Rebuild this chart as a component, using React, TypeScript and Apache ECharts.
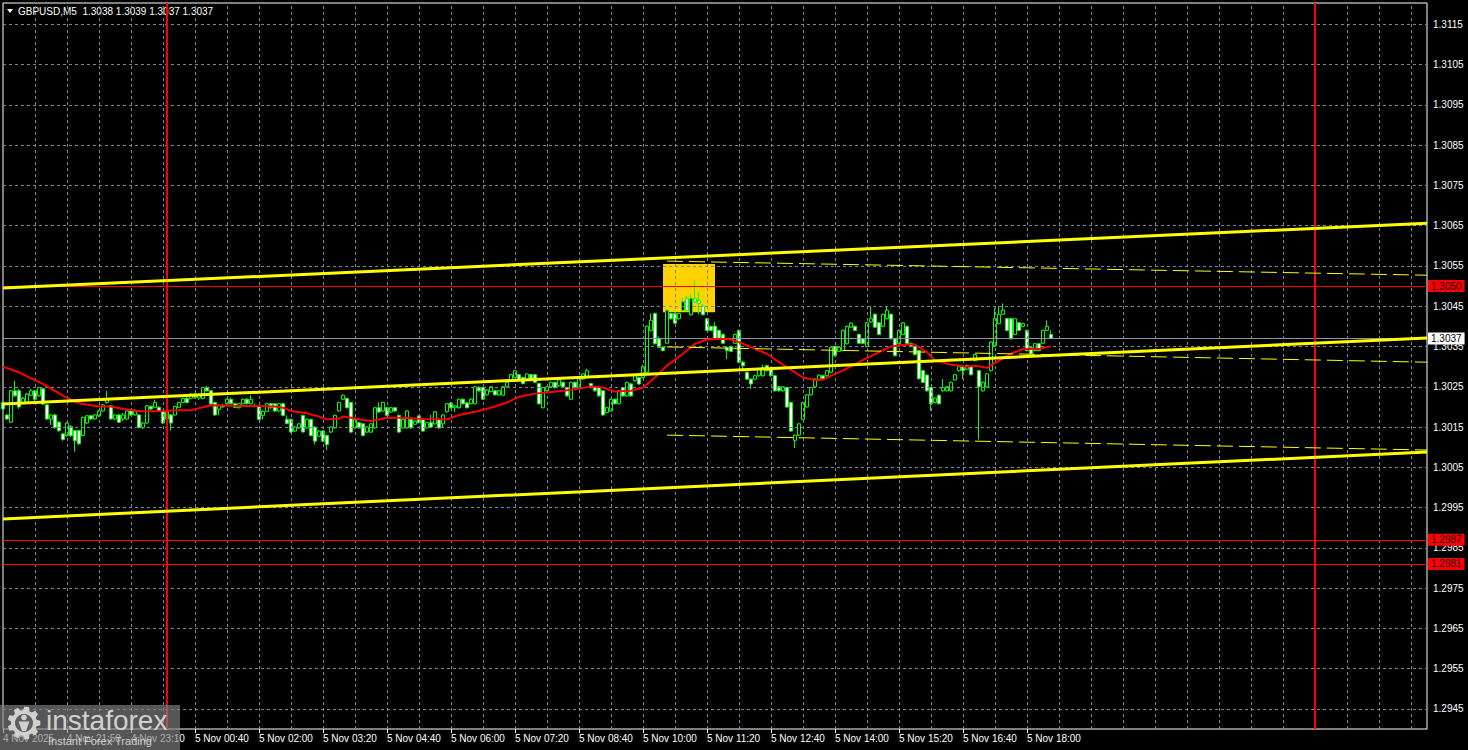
import React, { useEffect, useRef } from "react";
import * as echarts from "echarts";

// ---------- data (prices in pips above 1.3000) ----------
const BASE = 1.3;
const PIP = 0.0001;
const SLOT_COUNT = 357; // 5-minute slots visible across the plot
const LABEL_STEP = 16;

const titleText = "GBPUSD,M5  1.3038 1.3039 1.3037 1.3037";

const xTickLabels = [
  "4 Nov 2025", "4 Nov 21:50", "4 Nov 23:10", "5 Nov 00:40", "5 Nov 02:00",
  "5 Nov 03:20", "5 Nov 04:40", "5 Nov 06:00", "5 Nov 07:20", "5 Nov 08:40",
  "5 Nov 10:00", "5 Nov 11:20", "5 Nov 12:40", "5 Nov 14:00", "5 Nov 15:20",
  "5 Nov 16:40", "5 Nov 18:00",
];

const yTickValues = [
  1.2945, 1.2955, 1.2965, 1.2975, 1.2985, 1.2995, 1.3005, 1.3015, 1.3025,
  1.3035, 1.3045, 1.3055, 1.3065, 1.3075, 1.3085, 1.3095, 1.3105, 1.3115,
];

const opens = [
  21.1,18.0,16.2,24.0,24.0,21.0,21.1,22.9,24.0,22.8,
  24.5,20.5,17.0,18.0,16.2,13.3,12.9,15.1,14.1,14.1,
  12.9,16.0,17.8,17.0,17.8,19.0,21.1,20.3,17.0,18.0,
  17.0,17.0,19.0,18.0,18.0,14.9,16.0,20.1,19.9,19.9,
  19.0,17.0,18.0,18.0,19.9,21.1,22.1,22.1,23.2,22.2,
  22.1,24.8,24.0,21.1,19.4,20.4,20.8,21.9,20.8,19.8,
  20.8,21.9,20.8,20.4,20.1,17.9,18.9,20.8,20.8,19.0,
  20.8,16.9,16.9,14.0,14.8,17.9,14.8,16.9,15.0,12.75,
  14.0,12.9,13.75,14.8,19.0,21.9,22.1,21.1,14.8,16.1,
  15.8,13.75,13.75,14.8,19.8,19.0,19.8,18.75,19.8,17.9,
  14.8,14.8,16.9,15.7,17.75,16.9,14.8,16.1,15.8,16.9,
  15.8,18.8,21.0,19.8,19.8,21.9,21.0,20.8,20.8,24.8,
  24.8,23.0,23.8,24.0,23.0,22.9,25.0,26.5,27.3,28.0,
  27.3,26.9,28.0,28.0,25.8,19.8,24.0,25.0,26.1,25.25,
  26.1,24.8,21.9,26.1,24.8,26.9,27.3,25.8,25.0,24.8,
  24.0,18.6,19.0,21.9,20.8,24.8,22.75,25.7,26.5,27.3,
  27.3,28.6,39.0,43.2,36.9,34.8,35.8,43.2,43.2,41.9,
  44.0,46.9,42.9,46.9,46.5,45.0,41.9,40.0,40.0,39.0,
  38.0,34.8,35.0,35.8,39.0,31.1,28.6,26.9,26.9,27.75,
  27.75,30.25,29.4,27.75,25.0,24.0,24.8,21.1,11.7,13.0,
  16.9,20.0,23.0,25.0,26.7,27.75,27.75,28.6,35.0,33.8,
  34.0,35.7,39.8,40.0,38.0,36.9,35.0,41.1,43.0,40.9,
  40.0,41.9,43.0,36.9,35.7,38.0,40.0,35.8,35.0,34.0,
  29.0,27.9,24.8,21.1,22.9,24.0,24.0,24.0,26.7,29.0,
  30.0,29.4,30.0,31.5,29.0,24.0,25.0,29.0,35.25,40.7,
  43.0,41.9,41.9,38.0,40.9,40.0,39.0,34.7,34.0,35.7,
  35.8,39.0,38.0,
];

const closes = [
  19.5,17.0,24.0,22.8,20.0,22.1,23.2,24.0,21.9,24.8,
  20.7,17.0,18.0,14.9,14.1,11.9,16.0,12.9,11.6,10.9,
  17.4,17.8,17.0,18.0,19.0,20.5,21.9,17.0,18.0,16.2,
  18.0,19.0,18.0,19.0,14.9,16.0,20.3,19.5,21.1,19.0,
  16.0,19.0,16.0,20.1,21.1,22.1,21.1,23.2,22.5,23.0,
  24.8,24.0,20.7,18.0,20.4,20.0,21.9,20.8,19.9,20.8,
  21.9,20.8,21.9,20.1,16.9,18.9,20.8,19.8,19.0,20.8,
  17.9,15.9,13.8,15.0,15.8,13.8,16.9,12.9,11.5,14.0,
  11.5,10.7,15.0,17.9,21.1,22.9,19.8,13.75,16.9,14.8,
  12.9,15.0,15.8,19.8,18.75,21.1,17.9,19.8,19.0,13.75,
  16.9,19.0,14.8,16.5,16.1,14.0,16.1,15.0,18.8,14.8,
  18.0,20.8,19.8,20.25,21.9,20.8,19.8,21.9,25.0,24.0,
  21.9,24.2,25.0,23.0,24.0,25.0,26.1,28.0,29.0,26.7,
  25.8,28.2,26.7,26.1,20.8,24.8,25.0,26.1,24.8,26.7,
  25.0,22.75,26.1,24.8,27.3,28.2,29.0,24.8,24.0,22.75,
  18.0,19.8,21.9,20.8,24.0,22.75,26.1,22.75,27.75,25.7,
  30.0,40.0,41.5,35.7,34.8,34.0,44.0,41.9,40.8,43.2,
  46.1,44.0,46.9,46.1,45.7,42.9,39.0,39.0,36.9,36.9,
  35.8,34.0,33.8,38.0,31.1,30.25,26.9,25.7,27.75,29.4,
  29.8,29.0,27.75,24.0,24.0,25.0,20.0,14.0,13.0,15.8,
  21.1,23.0,24.8,26.9,27.9,26.9,29.0,34.8,32.75,34.8,
  39.0,40.0,40.8,39.0,35.8,35.8,40.9,41.9,39.8,38.0,
  43.0,44.0,36.9,32.75,39.0,40.9,35.7,35.0,33.0,27.0,
  26.1,24.0,20.8,22.2,20.8,24.8,25.0,26.1,28.0,30.0,
  29.0,30.25,28.0,33.0,25.0,26.1,28.2,36.1,41.9,43.0,
  44.0,39.0,36.9,41.9,39.0,40.7,34.0,33.2,35.7,34.0,
  39.0,40.0,37.0,
];

const lows = [
  19.0,16.8,16.0,22.5,19.5,20.8,21.0,22.8,21.5,22.5,
  20.5,16.8,15.5,14.5,13.8,11.6,12.6,12.5,8.9,10.5,
  12.7,15.8,16.8,16.8,17.5,18.8,20.8,16.8,16.8,16.0,
  16.5,16.8,17.8,17.8,14.7,14.5,15.8,19.2,19.7,18.8,
  15.8,16.8,14.1,17.8,19.7,20.9,20.9,21.9,22.0,21.8,
  21.9,23.8,20.5,17.8,17.9,19.8,20.6,20.6,19.7,19.6,
  20.6,20.6,20.6,19.9,16.7,16.9,18.7,19.6,18.8,18.8,
  17.7,15.7,13.5,13.8,14.6,13.6,14.6,12.7,10.7,12.5,
  11.3,9.25,13.5,14.6,18.8,21.7,19.6,13.5,14.6,14.6,
  12.7,13.5,13.5,14.6,18.5,18.8,17.7,18.5,18.8,13.5,
  14.6,14.6,14.6,15.5,15.9,13.8,14.6,14.8,15.6,14.6,
  14.8,18.6,19.6,18.8,19.6,20.6,19.6,20.6,20.6,23.8,
  21.7,22.8,23.6,22.8,22.8,22.7,24.8,26.3,27.1,26.5,
  25.6,26.7,26.5,25.9,20.6,19.6,23.8,24.8,24.6,25.0,
  24.8,22.5,21.7,24.6,24.6,26.7,27.1,24.6,23.8,22.5,
  17.8,18.4,18.8,20.6,20.6,22.5,22.5,22.5,26.3,25.5,
  27.1,28.4,38.8,35.5,34.6,33.8,35.6,41.7,40.6,41.7,
  43.8,43.8,42.7,45.9,43.0,42.7,38.8,38.8,36.7,36.7,
  35.6,31.9,33.6,35.6,30.9,29.5,26.7,24.5,26.7,27.5,
  27.5,28.8,27.5,23.8,23.8,23.8,19.8,13.8,9.8,12.8,
  16.7,19.8,22.8,24.8,26.5,26.7,27.5,28.4,32.5,33.6,
  33.8,35.5,39.6,38.8,35.6,35.6,34.8,40.9,39.6,37.8,
  39.8,41.7,36.7,32.5,35.5,37.8,35.5,34.8,32.8,26.8,
  25.9,23.8,19.0,20.9,20.6,23.8,23.8,23.8,26.5,28.8,
  26.9,29.2,27.8,31.3,11.9,23.8,24.8,28.8,35.0,40.5,
  42.8,38.8,36.7,37.8,38.8,39.8,33.8,33.0,33.8,33.8,
  35.6,38.8,37.0,
];

const highs = [
  21.5,18.2,24.2,26.5,24.5,22.5,23.5,24.5,24.2,25.0,
  24.8,20.7,18.2,18.2,16.5,13.5,16.3,15.5,14.3,14.3,
  17.6,18.0,18.0,18.2,19.3,20.8,24.0,20.5,18.2,18.2,
  18.5,19.2,19.2,19.5,18.2,16.2,20.5,20.4,21.8,20.2,
  19.2,19.2,18.2,20.3,21.3,22.3,22.5,23.4,23.4,23.4,
  25.0,25.2,24.2,21.3,20.6,20.8,22.1,22.3,21.0,21.0,
  22.1,22.2,22.9,20.8,20.3,19.1,21.0,21.0,20.9,21.0,
  21.0,17.9,17.1,15.2,16.0,18.1,17.1,17.1,15.2,14.2,
  14.2,13.1,15.2,18.1,21.3,23.1,22.3,21.3,17.1,16.3,
  16.0,15.2,16.0,20.0,21.1,21.3,20.0,20.0,20.0,18.1,
  17.1,19.2,17.1,16.7,18.0,17.1,16.3,18.0,19.0,17.1,
  18.2,21.0,21.2,20.5,22.1,22.1,21.2,22.1,25.2,25.2,
  25.0,24.4,25.2,24.2,24.2,25.2,26.3,28.2,29.2,28.2,
  27.5,28.4,28.2,28.2,26.0,25.0,25.2,26.3,26.3,26.9,
  26.3,25.0,26.3,26.3,27.5,28.4,29.5,26.0,25.2,25.0,
  24.2,20.0,22.1,22.1,24.2,25.0,26.3,26.0,28.0,27.5,
  30.5,40.2,43.2,43.4,37.5,35.0,44.2,43.4,43.4,43.4,
  47.0,47.5,48.0,51.5,48.5,45.5,42.1,40.2,41.0,39.2,
  38.2,35.0,35.2,38.2,39.2,31.5,28.8,27.1,28.0,29.6,
  30.5,30.5,29.6,28.0,25.2,25.2,25.0,21.3,13.2,16.0,
  21.3,23.2,25.0,27.1,28.1,28.0,29.2,35.0,35.2,35.0,
  39.2,40.2,41.0,40.2,38.2,37.1,41.1,45.0,43.2,41.1,
  43.2,45.0,43.2,37.1,39.2,41.1,40.2,36.0,35.2,34.2,
  29.2,28.1,25.0,22.4,23.1,26.9,25.2,26.3,28.2,30.2,
  30.2,30.5,30.2,33.2,29.2,26.3,28.4,36.3,44.5,45.0,
  45.7,42.1,42.1,42.1,41.1,40.9,39.2,34.9,35.9,35.9,
  39.2,41.5,39.0,
];

// Smoothed moving average, read at sample slots: [slot, pips]
const maPoints: [number, number][] = [
  [0, 30.0], [4, 28.6], [7, 27.1], [10, 25.7], [13, 24.0], [15, 22.8], [18, 21.3],
  [20, 20.7], [24, 20.1], [27, 20.1], [30, 19.5], [34, 18.9], [37, 18.9], [40, 19.0],
  [44, 19.2], [47, 19.2], [50, 19.9], [52, 20.4], [60, 20.25], [68, 20.1], [70, 19.8],
  [72, 19.0], [76, 18.4], [79, 17.6], [81, 16.9], [84, 17.1], [85, 17.6], [87, 17.3],
  [90, 16.75], [92, 16.5], [94, 16.9], [96, 17.3], [100, 17.3], [105, 17.0], [111, 16.9],
  [114, 18.0], [119, 19.0], [123, 20.1], [126, 21.1], [129, 22.5], [133, 23.3], [136, 23.6],
  [140, 24.0], [143, 24.4], [147, 25.1], [150, 24.8], [153, 23.8], [157, 24.0], [160, 24.8],
  [163, 27.3], [166, 30.25], [170, 33.2], [173, 35.7], [176, 36.75], [179, 36.9], [182, 36.75],
  [184, 36.1], [188, 34.4], [191, 33.2], [194, 31.1], [197, 29.2], [200, 27.3], [203, 26.7],
  [205, 26.8], [208, 28.2], [210, 29.0], [214, 31.1], [219, 33.6], [222, 35.0], [226, 35.5],
  [228, 35.5], [231, 33.6], [233, 31.5], [237, 30.5], [241, 30.0], [243, 30.25], [246, 29.7],
  [249, 31.5], [252, 33.2], [255, 34.4], [259, 34.4], [262, 35.1],
];

// Channel lines (solid, thick) and projected lines (dashed): [slot, pips]
const channelUpper: [number, number][] = [[0, 49.5], [356, 65.6]];
const channelMiddle: [number, number][] = [[0, 20.7], [356, 37.1]];
const channelLower: [number, number][] = [[0, -7.8], [356, 8.8]];
const dashUpper: [number, number][] = [[166, 56.2], [356, 52.7]];
const dashMiddle: [number, number][] = [[166, 34.9], [356, 31.1]];
const dashLower: [number, number][] = [[166, 13.0], [356, 9.3]];

// Highlight box: slots and pip range
const boxSlots = [165, 178];
const boxPips = [55.5, 43.5];

const redLevels = [1.305, 1.2987, 1.2981];
const bidPrice = 1.3037;
const dayBreakSlots = [41, 328];

// ---------- helpers ----------
const FONT = '"Liberation Sans", Arial, sans-serif';
const toPrice = (p: number) => Math.round((BASE + p * PIP) * 1e6) / 1e6;
const toXY = (pts: [number, number][]) => pts.map(([s, v]) => [s, toPrice(v)]);
const slotCategories = Array.from({ length: SLOT_COUNT }, (_, i) => String(i));
const xGridSlots = Array.from({ length: 44 }, (_, i) => (i + 1) * 8);
const Y_MIN = 1.294003;
const Y_MAX = 1.312029;

const labelSlot = (i: number) => i % LABEL_STEP === 0 && i / LABEL_STEP < xTickLabels.length;

function gearPoints(cx: number, cy: number, r1: number, r2: number, teeth: number) {
  const pts: number[][] = [];
  const step = 360 / teeth;
  for (let i = 0; i < teeth; i++) {
    const c = i * step;
    const a = [c - step * 0.36, c - step * 0.2, c + step * 0.2, c + step * 0.36];
    const r = [r1, r2, r2, r1];
    for (let k = 0; k < 4; k++) {
      const rad = (a[k] * Math.PI) / 180;
      pts.push([cx + r[k] * Math.cos(rad), cy + r[k] * Math.sin(rad)]);
    }
  }
  return pts;
}

function buildOption(): any {
  const candleData = opens.map((o, i) => [
    toPrice(o), toPrice(closes[i]), toPrice(lows[i]), toPrice(highs[i]),
  ]);

  const solid = (data: [number, number][]) => ({
    type: "line", xAxisIndex: 1, yAxisIndex: 0, data: toXY(data), showSymbol: false,
    silent: true, z: 6, lineStyle: { color: "#ffff00", width: 3 },
  });
  const dashed = (data: [number, number][]) => ({
    type: "line", xAxisIndex: 1, yAxisIndex: 0, data: toXY(data), showSymbol: false,
    silent: true, z: 6, lineStyle: { color: "#ffff00", width: 1, type: [16, 6] },
  });

  return {
    animation: false,
    backgroundColor: "#000",
    grid: {
      left: 3, top: 3, width: 1424, height: 726, show: true,
      borderColor: "#ffffff", borderWidth: 1, backgroundColor: "#000",
    },
    xAxis: [
      {
        type: "category", data: slotCategories, boundaryGap: false,
        axisLine: { show: false },
        axisTick: { show: true, interval: (i: number) => labelSlot(i), length: 4, lineStyle: { color: "#fff" } },
        axisLabel: {
          interval: (i: number) => labelSlot(i),
          formatter: (_v: string, i: number) => xTickLabels[i / LABEL_STEP] ?? "",
          color: "#fff", fontSize: 10, fontFamily: FONT, align: "left", margin: 4,
        },
        splitLine: { show: false },
      },
      { type: "value", min: 0, max: SLOT_COUNT - 1, show: false },
    ],
    yAxis: { type: "value", min: Y_MIN, max: Y_MAX, position: "right", show: false },
    graphic: [
      { type: "polygon", z: 1, shape: { points: [[7, 9], [13, 9], [10, 13]] }, style: { fill: "#fff" } },
      {
        type: "text", z: 1, x: 18, y: 11,
        style: { text: titleText, fill: "#fff", font: `10px ${FONT}`, verticalAlign: "middle" },
      },
      {
        type: "group", z: 100,
        children: [
          { type: "rect", z: 100, shape: { x: 0, y: 705, width: 180, height: 45 }, style: { fill: "rgba(128,128,128,0.67)" } },
          { type: "polygon", z: 101, shape: { points: gearPoints(24, 723, 13, 16.5, 9) }, style: { fill: "#cfcfcf" } },
          { type: "circle", z: 102, shape: { cx: 24, cy: 723, r: 9 }, style: { fill: "#5e5e5e" } },
          { type: "circle", z: 103, shape: { cx: 24, cy: 717.5, r: 2.8 }, style: { fill: "#cfcfcf" } },
          { type: "polygon", z: 103, shape: { points: [[18.5, 721.5], [29.5, 721.5], [26, 731], [22, 731]] }, style: { fill: "#cfcfcf" } },
          {
            type: "text", z: 103, x: 46, y: 734,
            style: { text: "instaforex", fill: "#d0d0d0", font: `28px ${FONT}`, verticalAlign: "bottom" },
          },
          {
            type: "text", z: 103, x: 48, y: 741,
            style: { text: "Instant Forex Trading", fill: "#d0d0d0", font: `11px ${FONT}`, verticalAlign: "middle" },
          },
        ],
      },
    ],
    series: [
      {
        type: "line", xAxisIndex: 1, yAxisIndex: 0, data: [], silent: true, z: 1,
        markArea: {
          silent: true, itemStyle: { color: "#ffd200", opacity: 1 },
          data: [[
            { coord: [boxSlots[0], toPrice(boxPips[0])] },
            { coord: [boxSlots[1], toPrice(boxPips[1])] },
          ]],
        },
      },
      {
        type: "line", xAxisIndex: 1, yAxisIndex: 0, data: [], silent: true, z: 2,
        markLine: {
          silent: true, symbol: ["none", "none"], precision: 6,
          lineStyle: { color: "#778899", width: 1, type: [3, 3] },
          label: {
            show: true, position: "end", distance: 6, color: "#fff", fontSize: 10, fontFamily: FONT,
            formatter: (p: any) => Number(p.value).toFixed(4),
          },
          data: [
            ...yTickValues.map((v) => ({ yAxis: v })),
            ...xGridSlots.map((s) => ({ xAxis: s, label: { show: false } })),
          ],
        },
      },
      {
        type: "candlestick", xAxisIndex: 0, yAxisIndex: 0, data: candleData, barWidth: 3, z: 3,
        itemStyle: { color: "#000000", color0: "#ffffff", borderColor: "#00ff00", borderColor0: "#00ff00", borderWidth: 1 },
      },
      {
        type: "line", xAxisIndex: 1, yAxisIndex: 0, data: toXY(maPoints), showSymbol: false, silent: true, z: 5,
        lineStyle: { color: "#ff0000", width: 2 },
      },
      solid(channelUpper), solid(channelMiddle), solid(channelLower),
      dashed(dashUpper), dashed(dashMiddle), dashed(dashLower),
      {
        type: "line", xAxisIndex: 1, yAxisIndex: 0, data: [], silent: true, z: 7,
        markLine: {
          silent: true, symbol: ["none", "none"], precision: 6,
          data: [
            {
              yAxis: bidPrice,
              lineStyle: { color: "#8896a6", width: 1, type: "solid" },
              label: {
                show: true, position: "end", distance: 1, color: "#000", backgroundColor: "#ffffff",
                padding: [1, 3, 0, 3], fontSize: 10, fontFamily: FONT, lineHeight: 11,
                formatter: () => bidPrice.toFixed(4),
              },
            },
            ...redLevels.map((v) => ({
              yAxis: v,
              lineStyle: { color: "#ff0000", width: 1, type: "solid" },
              label: {
                show: true, position: "end", distance: 1, color: "#200000", backgroundColor: "#ff0000",
                padding: [1, 3, 0, 3], fontSize: 10, fontFamily: FONT, lineHeight: 11,
                formatter: () => v.toFixed(4),
              },
            })),
            ...dayBreakSlots.map((s) => ({
              xAxis: s,
              lineStyle: { color: "#ff0000", width: 2, type: "solid" },
              label: { show: false },
            })),
          ],
        },
      },
    ],
  };
}

export default function App() {
  const ref = useRef<HTMLDivElement>(null);
  useEffect(() => {
    if (!ref.current) return;
    const chart = echarts.init(ref.current, undefined, { renderer: "svg" });
    chart.setOption(buildOption());
    return () => chart.dispose();
  }, []);
  return (
    <div
      ref={ref}
      style={{ position: "fixed", left: 0, top: 0, width: 1468, height: 750, background: "#000" }}
    />
  );
}
